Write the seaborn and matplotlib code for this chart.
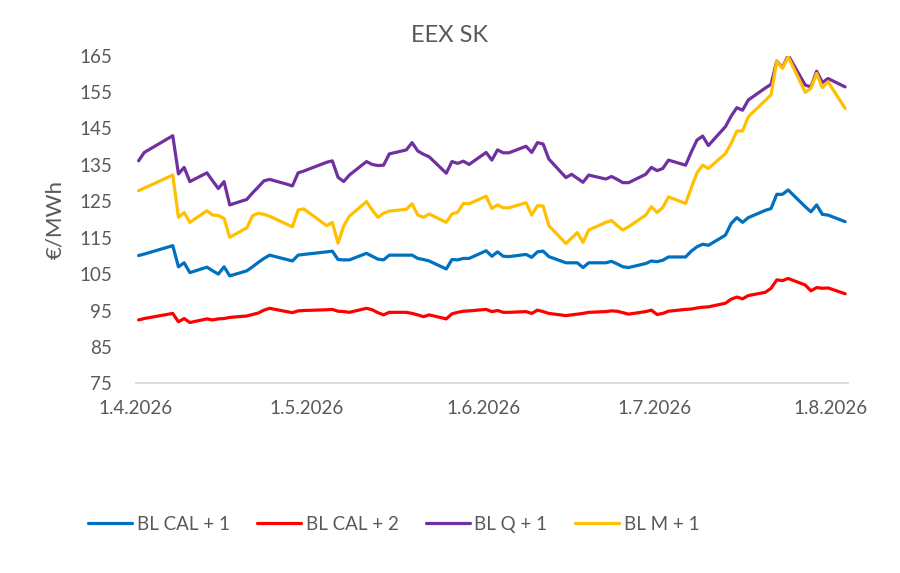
import pandas as pd
import numpy as np
import matplotlib
matplotlib.use("Agg")
import matplotlib.pyplot as plt
import seaborn as sns

# trading days (EEX closed on Good Friday, Easter Monday, 1 May)
holidays = ["2026-04-03", "2026-04-06", "2026-05-01"]
dates = pd.bdate_range("2026-04-01", "2026-08-03").drop(pd.to_datetime(holidays))

cal1 = [110.1, 110.5, 112.8, 107.0, 108.1, 105.4, 106.9, 105.9, 105.0, 107.0,
        104.5, 105.9, 107.0, 108.2, 109.3, 110.2, 109.0, 108.6, 110.2, 110.4,
        111.1, 111.3, 109.0, 108.9, 108.9, 110.7, 109.9, 109.1, 108.9, 110.2,
        110.2, 110.2, 109.3, 109.0, 108.6, 106.4, 109.0, 108.9, 109.3, 109.3,
        111.4, 109.9, 111.1, 109.9, 109.8, 110.4, 109.6, 111.1, 111.3, 109.8,
        108.1, 108.1, 108.1, 106.8, 108.1, 108.1, 108.5, 107.8, 107.0, 106.8,
        107.9, 108.6, 108.4, 108.8, 109.7, 109.7, 111.3, 112.5, 113.2, 112.9,
        115.7, 118.9, 120.5, 119.2, 120.5, 122.5, 123.0, 126.9, 126.9, 128.1,
        123.5, 122.1, 124.0, 121.4, 121.2, 119.4]
cal2 = [92.4, 92.8, 94.2, 91.9, 92.8, 91.7, 92.7, 92.4, 92.7, 92.8,
        93.1, 93.5, 93.9, 94.3, 95.1, 95.6, 94.7, 94.4, 94.9, 95.0,
        95.2, 95.3, 94.8, 94.7, 94.5, 95.6, 95.2, 94.4, 93.8, 94.5,
        94.5, 94.2, 93.8, 93.3, 93.8, 92.7, 94.1, 94.5, 94.8, 94.9,
        95.3, 94.7, 95.0, 94.5, 94.5, 94.7, 94.2, 95.1, 94.7, 94.2,
        93.6, 93.8, 94.0, 94.2, 94.5, 94.7, 94.9, 94.8, 94.4, 94.0,
        94.7, 95.1, 93.9, 94.2, 94.8, 95.3, 95.4, 95.7, 95.9, 96.0,
        97.0, 98.1, 98.7, 98.2, 99.1, 100.0, 101.1, 103.4, 103.2, 103.8,
        102.0, 100.4, 101.3, 101.1, 101.2, 99.6]
q1 = [136.1, 138.4, 143.0, 132.5, 134.3, 130.4, 132.8, 130.6, 128.5, 130.4,
      124.0, 125.5, 127.3, 128.9, 130.6, 131.0, 129.7, 129.2, 132.8, 133.3,
      135.7, 136.1, 131.6, 130.4, 132.2, 135.9, 135.1, 134.8, 134.9, 138.0,
      139.1, 141.1, 138.8, 137.9, 137.2, 132.7, 135.9, 135.4, 136.0, 135.1,
      138.4, 136.3, 139.1, 138.3, 138.3, 140.1, 138.4, 141.1, 140.7, 136.6,
      131.5, 132.4, 131.3, 130.2, 132.2, 131.1, 131.8, 131.0, 130.1, 130.1,
      132.4, 134.3, 133.4, 134.0, 136.3, 134.9, 138.5, 141.8, 142.9, 140.3,
      145.5, 148.4, 150.7, 150.0, 152.8, 156.1, 157.1, 163.5, 161.7, 165.1,
      156.9, 156.4, 160.7, 157.6, 158.7, 156.4]
m1 = [127.9, 128.6, 132.2, 120.6, 121.9, 119.2, 122.4, 121.2, 121.1, 120.3,
      115.1, 117.7, 121.0, 121.7, 121.4, 120.9, 118.7, 118.0, 122.6, 122.9,
      118.3, 119.2, 113.5, 118.2, 120.9, 124.9, 122.6, 120.6, 121.7, 122.3,
      122.8, 124.3, 121.2, 120.6, 121.5, 119.2, 121.5, 122.0, 124.4, 124.3,
      126.4, 123.0, 124.0, 123.2, 123.2, 124.6, 121.2, 123.8, 123.7, 118.3,
      113.4, 114.9, 116.4, 113.7, 117.1, 119.2, 119.7, 118.3, 117.1, 118.0,
      121.2, 123.5, 121.9, 123.3, 126.2, 124.4, 128.7, 132.8, 134.9, 134.0,
      138.1, 140.9, 144.3, 144.3, 148.2, 152.7, 154.2, 163.5, 161.5, 164.7,
      154.9, 156.0, 160.1, 156.2, 157.8, 150.5]

series = ["BL CAL + 1", "BL CAL + 2", "BL Q + 1", "BL M + 1"]
colors = ["#0070C0", "#FF0000", "#7030A0", "#FFC000"]
month_ticks = pd.date_range("2026-04-01", "2026-08-01", freq="MS")

df = pd.DataFrame({"date": dates, series[0]: cal1, series[1]: cal2,
                   series[2]: q1, series[3]: m1})
long = df.melt(id_vars="date", var_name="product", value_name="price")
# Excel date axis puts points in the middle of each day
long["date"] = long["date"] + pd.Timedelta(hours=12)

sns.set_theme(style="white")
plt.rcParams["font.family"] = ["Lato", "DejaVu Sans"]
grey = "#595959"

fig = plt.figure(figsize=(9, 5.73), dpi=100)
ax = fig.add_axes([0.1508, 0.331, 0.7914, 0.572])
sns.lineplot(data=long, x="date", y="price", hue="product", hue_order=series,
             palette=dict(zip(series, colors)), linewidth=2.3, ax=ax, legend=False)

ax.set_xlim(pd.Timestamp("2026-04-01"), pd.Timestamp("2026-08-04"))
ax.set_ylim(75, 165)
ax.set_yticks(np.arange(75, 166, 10))
ax.set_xticks(month_ticks)
ax.set_xticklabels([f"{d.day}.{d.month}.{d.year}" for d in month_ticks])
ax.tick_params(axis="x", colors="#D9D9D9", length=5, width=1, direction="out",
               labelcolor=grey, labelsize=13.5, pad=7)
ax.tick_params(axis="y", length=0, labelcolor=grey, labelsize=13.5, pad=17)
for s in ["top", "right", "left"]:
    ax.spines[s].set_visible(False)
ax.spines["bottom"].set_color("#D9D9D9")
ax.set_xlabel("")
ax.set_ylabel("€/MWh", color=grey, fontsize=16, labelpad=10)
fig.text(0.5, 1 - 35 / 573, "EEX SK", color=grey, fontsize=17,
         ha="center", va="center")

handles = [plt.Line2D([], [], color=c, lw=2.3) for c in colors]
fig.legend(handles, series, loc="center left", bbox_to_anchor=(88 / 900, 0.085),
           ncol=4, frameon=False, fontsize=13.5, labelcolor=grey,
           borderaxespad=0, borderpad=0,
           handlelength=2.35, columnspacing=1.45, handletextpad=0.25)

fig.savefig("out.png", dpi=100)
